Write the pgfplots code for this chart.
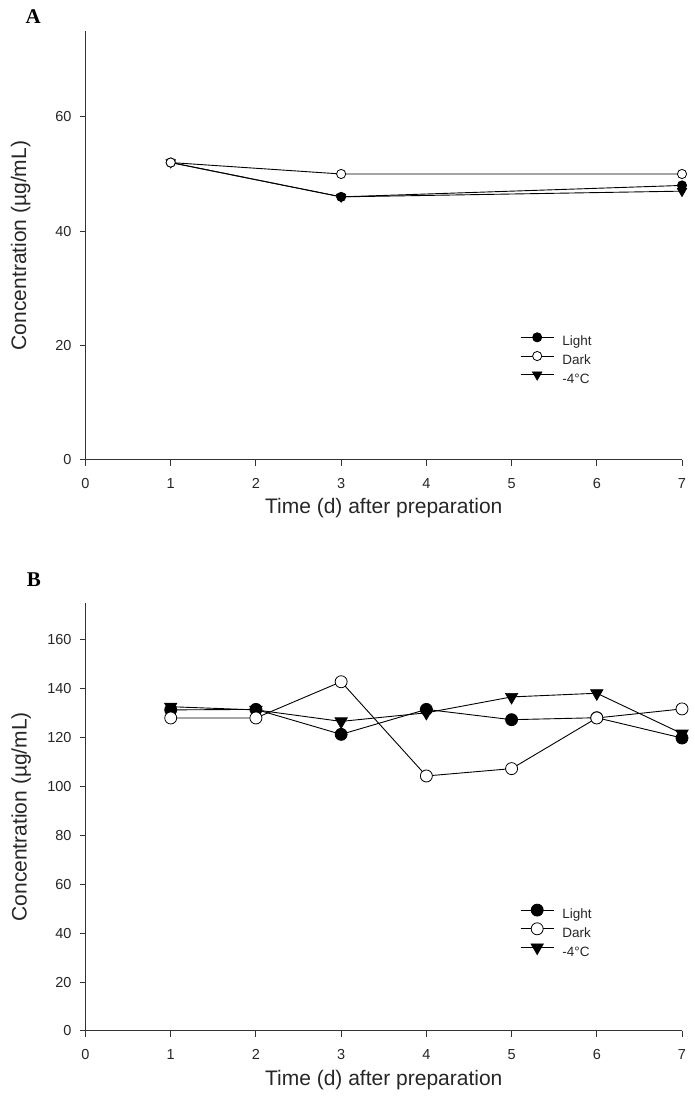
\documentclass[border=0pt]{standalone}
\usepackage{fontspec}
\setmainfont{Liberation Sans}
\newfontfamily\letterfont{Liberation Serif}
\usepackage{pgfplots}
\pgfplotsset{compat=1.18}
\definecolor{axgray}{gray}{0.2}
\pgfplotsset{
  myaxis/.style={
    scale only axis, width=596.5pt,
    xmin=0, xmax=7, xtick={0,...,7},
    axis x line*=bottom, axis y line*=left,
    axis line style={-, line width=1pt, color=axgray},
    every tick/.style={line width=1pt, color=axgray},
    tick align=outside, major tick length=6pt,
    /pgf/number format/assume math mode=true,
    ticklabel style={font=\fontsize{14.5}{16}\selectfont, text=black!85, inner sep=0pt},
    xticklabel style={anchor=north, yshift=-12pt},
    yticklabel style={anchor=east, xshift=-7.8pt},
    xlabel={Time (d) after preparation},
    xlabel style={font=\fontsize{21}{24}\selectfont, text=black!85, at={(axis description cs:0.5,0)}, anchor=base, yshift=-54pt},
    clip=false,
    legend cell align=left,
    legend style={draw=none, fill=none, inner sep=0pt, outer sep=0pt,
      font=\fontsize{13.5}{15}\selectfont, text=black!85, anchor=north west,
      row sep=3pt, column sep=8.7pt,
      nodes={inner sep=0pt, text height=9.7pt, text depth=2.3pt}},
    legend image code/.code={%
      \draw[overlay, mark repeat=2, mark phase=2, #1] plot coordinates {(0pt,4.8pt) (16.5pt,4.8pt) (33pt,4.8pt)};
      \pgfpathrectangle{\pgfpointorigin}{\pgfpoint{33pt}{9.7pt}}\pgfusepath{use as bounding box}},
  },
}
\begin{document}
\begin{tikzpicture}
\useasboundingbox (0pt,0pt) rectangle (695pt,1099pt);
% Panel A
\begin{axis}[myaxis, at={(85.5pt,639pt)}, anchor=south west,
  height=429pt, ymin=0, ymax=75, ytick={0,20,40,60},
  legend style={at={(axis cs:5.107,22.3)}}]
  \addlegendimage{black, line width=0.9pt, mark=*, mark size=4.6pt, mark options={fill=black, line width=0.8pt}}
  \addlegendentry{Light}
  \addlegendimage{black, line width=0.9pt, mark=*, mark size=4.6pt, mark options={fill=white, line width=0.8pt}}
  \addlegendentry{Dark}
  \addlegendimage{black, line width=0.9pt, mark=triangle*, mark size=5.5pt, mark options={fill=black, rotate=180, line width=0.6pt}}
  \addlegendentry{-4°C}
  \addplot[forget plot, black, line width=0.9pt, mark=triangle*, mark size=5.5pt, mark options={fill=black, rotate=180, line width=0.6pt}]
    coordinates {(1,52) (3,46) (7,47)};
  \addplot[forget plot, black, line width=0.9pt, mark=*, mark size=4.6pt, mark options={fill=black, line width=0.8pt}]
    coordinates {(1,52) (3,46) (7,48)};
  \addplot[forget plot, black, line width=0.9pt, mark=*, mark size=4.6pt, mark options={fill=white, line width=0.8pt}]
    coordinates {(1,52) (3,50) (7,50)};
\end{axis}
\node[rotate=90, anchor=base, font=\fontsize{21}{24}\selectfont, text=black!85] at (26pt,853.5pt) {Concentration (µg/mL)};
\node[anchor=base, font=\letterfont\bfseries\fontsize{21}{24}\selectfont] at (33.3pt,1075pt) {A};
% Panel B
\begin{axis}[myaxis, at={(85.5pt,68pt)}, anchor=south west,
  height=428.3pt, ymin=0, ymax=175, ytick={0,20,...,160},
  legend style={at={(axis cs:5.107,51.4)}}]
  \addlegendimage{black, line width=0.9pt, mark=*, mark size=6pt, mark options={fill=black, line width=0.8pt}}
  \addlegendentry{Light}
  \addlegendimage{black, line width=0.9pt, mark=*, mark size=6pt, mark options={fill=white, line width=0.8pt}}
  \addlegendentry{Dark}
  \addlegendimage{black, line width=0.9pt, mark=triangle*, mark size=7.2pt, mark options={fill=black, rotate=180, line width=0.6pt}}
  \addlegendentry{-4°C}
  \addplot[forget plot, black, line width=0.9pt, mark=triangle*, mark size=7.2pt, mark options={fill=black, rotate=180, line width=0.6pt}]
    coordinates {(1,132.5) (2,131.2) (3,126.5) (4,130) (5,136.5) (6,138) (7,121.5)};
  \addplot[forget plot, black, line width=0.9pt, mark=*, mark size=6pt, mark options={fill=black, line width=0.8pt}]
    coordinates {(1,131.2) (2,131.4) (3,121.2) (4,131.4) (5,127.2) (6,128) (7,119.7)};
  \addplot[forget plot, black, line width=0.9pt, mark=*, mark size=6pt, mark options={fill=white, line width=0.8pt}]
    coordinates {(1,127.9) (2,127.9) (3,142.7) (4,104.2) (5,107.2) (6,127.9) (7,131.6)};
\end{axis}
\node[rotate=90, anchor=base, font=\fontsize{21}{24}\selectfont, text=black!85] at (26.5pt,282.2pt) {Concentration (µg/mL)};
\node[anchor=base, font=\letterfont\bfseries\fontsize{21}{24}\selectfont] at (34pt,512.2pt) {B};
\end{tikzpicture}
\end{document}
